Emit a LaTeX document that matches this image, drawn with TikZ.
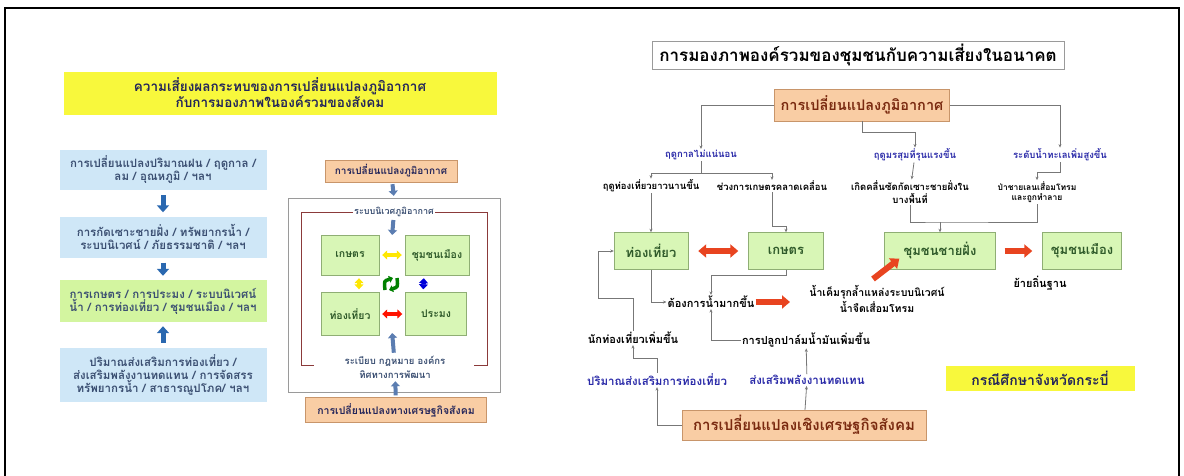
\documentclass[tikz,border=0pt]{standalone}
\usepackage{fontspec}
\newfontfamily\thai[Script=Thai]{Loma}
\usepackage{tikz}
\usetikzlibrary{arrows.meta}
\definecolor{skyfill}{HTML}{CFE7F7}
\definecolor{limefill}{HTML}{D3F5A0}
\definecolor{leaffill}{HTML}{D8F6B6}
\definecolor{leafline}{HTML}{8FAE74}
\definecolor{amberfill}{HTML}{F9CDA4}
\definecolor{amberline}{HTML}{C8956A}
\definecolor{sunfill}{HTML}{F8F83C}
\definecolor{slatetxt}{HTML}{3B4F72}
\definecolor{navytxt}{HTML}{22245A}
\definecolor{rusttxt}{HTML}{7A2A10}
\definecolor{leaftxt}{HTML}{2F5A2A}
\definecolor{inktxt}{HTML}{2A2AA8}
\definecolor{arrowblue}{HTML}{2A68B0}
\definecolor{steelblue}{HTML}{5B7DB1}
\definecolor{hotred}{HTML}{E84420}
\definecolor{linegray}{HTML}{777777}
\definecolor{framegray}{HTML}{9A9A9A}
\definecolor{wine}{HTML}{8B3A3A}

\begin{document}
\begin{tikzpicture}[x=1pt,y=-1pt,
    every node/.style={font=\thai\bfseries\fontsize{8}{10}\selectfont},
    skybox/.style={fill=skyfill,text=slatetxt,minimum width=207pt,align=center,inner sep=1pt,
        font=\thai\bfseries\fontsize{11.5}{13}\selectfont},
    limebox/.style={skybox,fill=limefill},
    leafbox/.style={draw=leafline,fill=leaffill,text=leaftxt,align=center,inner sep=1pt},
    amberbox/.style={draw=amberline,fill=amberfill,align=center,inner sep=1pt},
    lbl/.style={align=center,inner sep=1pt,font=\thai\bfseries\fontsize{#1}{#1}\selectfont},
    lbl/.default=9.5,
    inklbl/.style={lbl=#1,text=inktxt},
    inklbl/.default=9.5,
    fatarrow/.style={arrowblue,line width=5pt,shorten <=5pt,shorten >=4pt,
        -{Triangle[width=12pt,length=7pt]}},
    midarrow/.style={steelblue,line width=4pt,shorten <=2pt,shorten >=2pt,
        -{Triangle[width=9pt,length=5pt]}},
    twoway/.style={line width=4.5pt,shorten <=3pt,shorten >=3pt,
        {Triangle[width=9pt,length=5pt]}-{Triangle[width=9pt,length=5pt]}},
    redarrow/.style={hotred,line width=6pt,-{Triangle[width=13pt,length=8pt]}},
    conn/.style={linegray,line width=0.8pt,-{Stealth[length=3.5pt,width=3pt]}}]
    \useasboundingbox (0,0) rectangle (1184,475);
    \draw[line width=1.2pt] (5,476) -- (5,8) -- (1179,8) -- (1179,476);

    % left column
    \node[fill=sunfill,text=navytxt,minimum width=433pt,minimum height=43pt,align=center,
        font=\thai\bfseries\fontsize{13.5}{15}\selectfont] (risk) at (280,93)
        {ความเสี่ยงผลกระทบของการเปลี่ยนแปลงภูมิอากาศ\\กับการมองภาพในองค์รวมของสังคม};
    \node[skybox,minimum height=40pt] (climate) at (163,170)
        {การเปลี่ยนแปลงปริมาณฝน / ฤดูกาล /\\ลม / อุณหภูมิ / ฯลฯ};
    \node[skybox,minimum height=41pt] (erosion) at (163,237)
        {การกัดเซาะชายฝั่ง / ทรัพยากรน้ำ /\\ระบบนิเวศน์ / ภัยธรรมชาติ / ฯลฯ};
    \node[limebox,minimum height=42pt] (sector) at (163,301)
        {การเกษตร / การประมง / ระบบนิเวศน์\\น้ำ / การท่องเที่ยว / ชุมชนเมือง / ฯลฯ};
    \node[skybox,minimum height=54pt] (policy) at (163,375)
        {ปริมาณส่งเสริมการท่องเที่ยว /\\ส่งเสริมพลังงานทดแทน / การจัดสรร\\ทรัพยากรน้ำ / สาธารณูปโภค/ ฯลฯ};
    \foreach \a/\b in {climate/erosion,erosion/sector,policy/sector}
        \draw[fatarrow] (\a) -- (\b);

    % middle panel
    \node[amberbox,lbl=10,text=navytxt,minimum width=132pt,minimum height=22pt] (mclimate) at (391,171)
        {การเปลี่ยนแปลงภูมิอากาศ};
    \node[draw=framegray,minimum width=212pt,minimum height=194pt] (frame) at (394,295) {};
    \node[lbl=9,text=slatetxt] (eco) at (394,212) {ระบบนิเวศภูมิอากาศ};
    \coordinate (leftrail) at (301,212);
    \coordinate (rightrail) at (487,212);
    \draw[wine,line width=0.8pt] (eco) -- (eco -| leftrail) -- ++(0,153) -- ++(13,0);
    \draw[wine,line width=0.8pt] (eco) -- (eco -| rightrail) -- ++(0,153) -- ++(-13,0);
    \draw[midarrow] (mclimate) -- (frame.north);
    \coordinate (gaptop) at (392,237);
    \draw[midarrow] (eco) -- (gaptop);
    \node[leafbox,lbl=10.5,text=leaftxt,minimum width=58pt,minimum height=40pt] (farm) at (350,255) {เกษตร};
    \node[leafbox,lbl=10.5,text=leaftxt,minimum width=64pt,minimum height=40pt] (city) at (437,255) {ชุมชนเมือง};
    \node[leafbox,lbl=10.5,text=leaftxt,minimum width=58pt,minimum height=43pt] (tour) at (350,314) {ท่องเที่ยว};
    \node[leafbox,lbl=10.5,text=leaftxt,minimum width=61pt,minimum height=43pt] (fish) at (436,314) {ประมง};
    \draw[twoway,yellow!90!orange] (farm) -- (city);
    \draw[twoway,yellow!90!orange] ([xshift=9pt]farm.south) -- ([xshift=9pt]tour.north);
    \draw[twoway,blue!85!black] ([xshift=-13pt]city.south) -- ([xshift=-13pt]fish.north);
    \draw[twoway,red!85!orange] (tour) -- (fish);
    \coordinate (hub) at (391,284);
    \draw[green!50!black,line width=3.5pt,-{Triangle[width=7pt,length=4pt]}]
        ([shift={(-6,6)}]hub) .. controls ([shift={(-7,-3)}]hub) .. ([shift={(2,-6)}]hub);
    \draw[green!50!black,line width=3.5pt,-{Triangle[width=7pt,length=4pt]}]
        ([shift={(6,-6)}]hub) .. controls ([shift={(7,3)}]hub) .. ([shift={(-2,6)}]hub);
    \node[lbl=9.5,text=slatetxt] (rules) at (395,367) {ระเบียบ กฎหมาย องค์กร\\[3pt]ทิศทางการพัฒนา};
    \coordinate (gapbottom) at (392,331);
    \draw[midarrow] (rules) -- (gapbottom);
    \node[amberbox,lbl=10.5,text=navytxt,minimum width=181pt,minimum height=25pt] (msocial) at (396,410)
        {การเปลี่ยนแปลงทางเศรษฐกิจสังคม};
    \draw[midarrow] (msocial) -- (rules);

    % right panel
    \node[draw=framegray,minimum width=412pt,minimum height=27pt,
        font=\thai\bfseries\fontsize{17}{19}\selectfont] (outlook) at (858,55)
        {การมองภาพองค์รวมของชุมชนกับความเสี่ยงในอนาคต};
    \node[amberbox,text=rusttxt,minimum width=175pt,minimum height=32pt,
        font=\thai\bfseries\fontsize{14.5}{16}\selectfont] (rclimate) at (862,105)
        {การเปลี่ยนแปลงภูมิอากาศ};
    \node[inklbl] (season) at (701,155) {ฤดูกาลไม่แน่นอน};
    \node[inklbl] (monsoon) at (915,155) {ฤดูมรสุมที่รุนแรงขึ้น};
    \node[inklbl] (sealevel) at (1060,155) {ระดับน้ำทะเลเพิ่มสูงขึ้น};
    \draw[conn] (rclimate.west) -| (season);
    \draw[conn] (rclimate.east) -| (sealevel);
    \draw[conn] (rclimate.south) -- ++(0,11) -| (monsoon);

    \node[lbl] (longseason) at (651,186) {ฤดูท่องเที่ยวยาวนานขึ้น};
    \node[lbl] (cropshift) at (772,186) {ช่วงการเกษตรคลาดเคลื่อน};
    \node[lbl] (shore) at (910,192) {เกิดคลื่นซัดกัดเซาะชายฝั่งใน\\[2pt]บางพื้นที่};
    \node[lbl=8.5] (mangrove) at (1037,192) {ป่าชายเลนเสื่อมโทรม\\[2pt]และถูกทำลาย};
    \draw[conn] (season.south) -- ++(0,12) -| (longseason);
    \draw[conn] (season.south) -- ++(0,12) -| (cropshift);
    \draw[conn] (monsoon) -- (shore);
    \draw[conn] (sealevel.south) -- ++(0,10) -| (mangrove);

    \node[leafbox,lbl=13,text=leaftxt,minimum width=74pt,minimum height=37pt] (rtour) at (651,251) {ท่องเที่ยว};
    \node[leafbox,lbl=13,text=leaftxt,minimum width=75pt,minimum height=37pt] (rfarm) at (786,251) {เกษตร};
    \node[leafbox,lbl=13,text=leaftxt,minimum width=111pt,minimum height=37pt] (rcoast) at (940,251) {ชุมชนชายฝั่ง};
    \node[leafbox,lbl=13,text=leaftxt,minimum width=79pt,minimum height=37pt] (rcity) at (1082,251) {ชุมชนเมือง};
    \draw[conn] (longseason) -- (rtour);
    \draw[conn] (cropshift.south) |- ([yshift=6pt]rfarm.north) -- (rfarm.north);
    \coordinate (shorebar) at (940,222);
    \draw[linegray,line width=0.8pt] (shore.south) |- (shorebar) -| (mangrove.south);
    \draw[conn] (shorebar) -- (rcoast);
    \draw[redarrow,shorten <=10pt,shorten >=10pt,{Triangle[width=13pt,length=8pt]}-{Triangle[width=13pt,length=8pt]}]
        (rtour) -- (rfarm);
    \draw[redarrow,shorten <=9pt,shorten >=10pt] (rcoast) -- (rcity);

    \node[lbl=11] (relocate) at (1040,283) {ย้ายถิ่นฐาน};
    \node[lbl=10.5] (saltwater) at (877,299) {น้ำเค็มรุกล้ำแหล่งระบบนิเวศน์\\[2pt]น้ำจืดเสื่อมโทรม};
    \coordinate (saltfoot) at (873,279);
    \draw[redarrow] (saltfoot) -- ([xshift=15pt,yshift=11pt]rcoast.south west);
    \node[lbl=11] (water) at (711,302) {ต้องการน้ำมากขึ้น};
    \coordinate (waterhead) at (790,302);
    \draw[redarrow] (water.east) -- (waterhead);
    \draw[conn] (rtour.south) |- (water.west);
    \draw[conn] (rfarm.south) -- ++(0,6) -| (water);

    \node[lbl=11] (visitors) at (633,338) {นักท่องเที่ยวเพิ่มขึ้น};
    \node[lbl=11] (palm) at (806,340) {การปลูกปาล์มน้ำมันเพิ่มขึ้น};
    \draw[conn] (visitors.north) -- ++(0,-33) -| ([xshift=-15pt]rtour.west) -- (rtour.west);
    \draw[conn] (palm.west) -| (water.south);

    \node[inklbl=11.5] (promote) at (657,380) {ปริมาณส่งเสริมการท่องเที่ยว};
    \node[inklbl=11.5] (energy) at (807,380) {ส่งเสริมพลังงานทดแทน};
    \draw[conn] (promote.north) -- ++(0,-14) -| (visitors.south);
    \draw[conn] (energy) -- (palm);
    \node[amberbox,text=rusttxt,minimum width=244pt,minimum height=30pt,
        font=\thai\bfseries\fontsize{15}{17}\selectfont] (rsocial) at (804,425)
        {การเปลี่ยนแปลงเชิงเศรษฐกิจสังคม};
    \draw[conn] (rsocial.west) -| (promote.south);
    \draw[conn] (rsocial) -- (energy);
    \node[fill=sunfill,text=navytxt,minimum width=189pt,minimum height=25pt,
        font=\thai\bfseries\fontsize{14}{16}\selectfont] (krabi) at (1040,378)
        {กรณีศึกษาจังหวัดกระบี่};
\end{tikzpicture}
\end{document}
